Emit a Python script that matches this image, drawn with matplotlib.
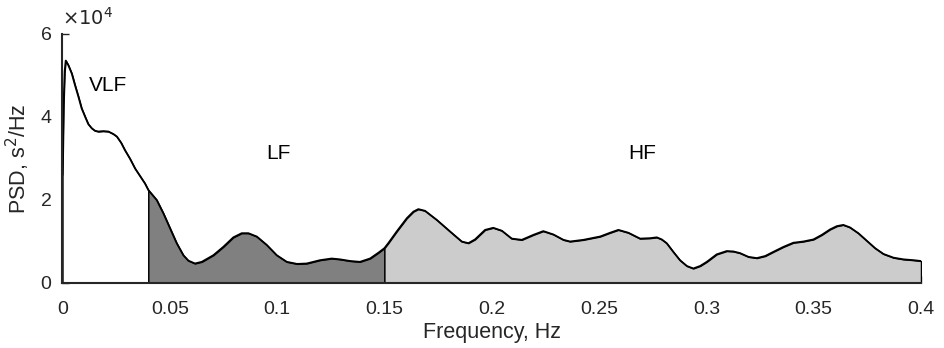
import matplotlib

matplotlib.use("Agg")
import matplotlib.pyplot as plt
import numpy as np

# PSD curve (frequency in Hz, power in units of 1e4 s^2/Hz)
freq = [
    0.0, 0.0005, 0.001, 0.0015, 0.0027, 0.0043, 0.0058, 0.0074, 0.0089,
    0.0105, 0.012, 0.0136, 0.0151, 0.0167, 0.019, 0.0214, 0.0237, 0.0253,
    0.0273, 0.0291, 0.0315, 0.0338, 0.0361, 0.0384, 0.04,
    0.0439, 0.047, 0.0501, 0.0532, 0.0563, 0.0586, 0.0617, 0.0649, 0.0703,
    0.0749, 0.0796, 0.0835, 0.0866, 0.0905, 0.0951, 0.0998, 0.1045, 0.1093,
    0.1138, 0.12, 0.1254, 0.1293, 0.134, 0.1386, 0.1433, 0.1472, 0.15,
    0.1518, 0.1557, 0.1604, 0.1635, 0.1658, 0.1689, 0.1744, 0.1806, 0.186,
    0.1891, 0.1922, 0.1969, 0.2007, 0.2047, 0.2093, 0.214, 0.2194, 0.224,
    0.2287, 0.2334, 0.2365, 0.2427, 0.2505, 0.2551, 0.259, 0.2637, 0.2691,
    0.2738, 0.2769, 0.2792, 0.2815, 0.2846, 0.2877, 0.2909, 0.2939, 0.2971,
    0.3002, 0.3048, 0.3095, 0.3126, 0.3157, 0.3196, 0.3235, 0.3274, 0.3312,
    0.3359, 0.3405, 0.3452, 0.3499, 0.3538, 0.3576, 0.3608, 0.3638, 0.3669,
    0.3708, 0.3747, 0.3786, 0.3825, 0.3872, 0.3918, 0.3965, 0.4,
]
psd = [
    2.6, 4.3, 5.1, 5.36, 5.25, 5.05, 4.77, 4.49, 4.21,
    4.01, 3.83, 3.73, 3.67, 3.65, 3.66, 3.65, 3.59, 3.53,
    3.38, 3.2, 2.99, 2.76, 2.58, 2.4, 2.24,
    2.0, 1.68, 1.32, 0.96, 0.67, 0.54, 0.47, 0.51, 0.67,
    0.87, 1.1, 1.2, 1.2, 1.12, 0.92, 0.67, 0.51, 0.46,
    0.47, 0.55, 0.59, 0.57, 0.53, 0.51, 0.59, 0.73, 0.84,
    0.96, 1.24, 1.56, 1.72, 1.78, 1.74, 1.52, 1.24, 1.0,
    0.96, 1.05, 1.28, 1.33, 1.26, 1.07, 1.04, 1.16, 1.25,
    1.17, 1.04, 1.0, 1.04, 1.12, 1.21, 1.28, 1.21, 1.07,
    1.08, 1.1, 1.05, 0.96, 0.75, 0.55, 0.41, 0.35, 0.41,
    0.51, 0.69, 0.77, 0.76, 0.72, 0.63, 0.6, 0.65, 0.75,
    0.87, 0.97, 1.0, 1.05, 1.16, 1.29, 1.37, 1.40, 1.34,
    1.2, 1.02, 0.84, 0.70, 0.61, 0.57, 0.55, 0.53,
]

bands = ["VLF", "LF", "HF"]
band_edges = [(0.0, 0.04), (0.04, 0.15), (0.15, 0.4)]
band_colors = ["white", "#808080", "#cccccc"]
label_x = [0.0214, 0.1004, 0.270]
label_y = [4.77, 3.13, 3.13]

plt.rcParams["font.family"] = ["Liberation Sans", "DejaVu Sans"]

fig = plt.figure(figsize=(9.44, 3.48), dpi=100)
ax = fig.add_axes([0.0662, 0.1868, 0.9094, 0.7155])

f = np.array(freq)
p = np.array(psd)
for (lo, hi), color in zip(band_edges, band_colors):
    m = (f >= lo) & (f <= hi)
    ax.fill_between(f[m], 0, p[m], facecolor=color, edgecolor="black",
                    linewidth=1.0, zorder=3)
ax.plot(f, p, color="black", linewidth=1.3, zorder=4,
        solid_joinstyle="round", solid_capstyle="round")

for name, x, y in zip(bands, label_x, label_y):
    ax.text(x, y, name, fontsize=15, ha="center", va="center", zorder=5)

ax.set_xlim(0, 0.4)
ax.set_ylim(0, 6)
ax.set_xticks([0, 0.05, 0.1, 0.15, 0.2, 0.25, 0.3, 0.35, 0.4])
ax.set_xticklabels(["0", "0.05", "0.1", "0.15", "0.2", "0.25", "0.3", "0.35", "0.4"])
ax.set_yticks([0, 2, 4, 6])
ax.set_yticklabels(["0", "2", "4", "6"])
ax.tick_params(direction="in", length=5, width=1, colors="#262626",
               labelsize=14, labelcolor="#262626")
ax.tick_params(axis="x", pad=13)
ax.tick_params(axis="y", pad=8)
for side in ["top", "right"]:
    ax.spines[side].set_visible(False)
for side in ["left", "bottom"]:
    ax.spines[side].set_color("#262626")
    ax.spines[side].set_linewidth(1.5)
    ax.spines[side].set_zorder(6)

ax.text(0.0, 1.02, r"$\times 10^4$", transform=ax.transAxes, fontsize=14,
        color="#262626", ha="left", va="bottom")
ax.set_xlabel("Frequency, Hz", fontsize=15.5, color="#262626", labelpad=3)
ax.set_ylabel(r"PSD, s$^2$/Hz", fontsize=15.5, color="#262626", labelpad=6)

fig.savefig("out.png", dpi=100)
